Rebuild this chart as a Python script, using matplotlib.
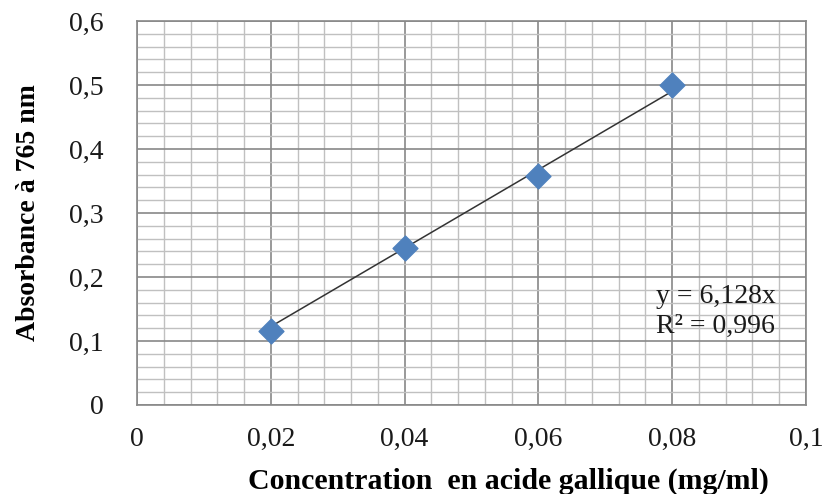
import numpy as np
import matplotlib.pyplot as plt
from matplotlib.ticker import MultipleLocator, FuncFormatter

conc = [0.02, 0.04, 0.06, 0.08]
absorb = [0.115, 0.245, 0.358, 0.500]
pente = 6.128
r2 = 0.996

plt.rcParams['font.family'] = ['Liberation Serif', 'DejaVu Serif']

fig = plt.figure(figsize=(8.27, 4.94), dpi=100)
ax = fig.add_axes([0.1657, 0.1802, 0.8089, 0.7773])

ax.set_xlim(0, 0.1)
ax.set_ylim(0, 0.6)
ax.xaxis.set_major_locator(MultipleLocator(0.02))
ax.xaxis.set_minor_locator(MultipleLocator(0.004))
ax.yaxis.set_major_locator(MultipleLocator(0.1))
ax.yaxis.set_minor_locator(MultipleLocator(0.02))

virgule = FuncFormatter(lambda v, p: ('%g' % round(v, 4)).replace('.', ','))
ax.xaxis.set_major_formatter(virgule)
ax.yaxis.set_major_formatter(virgule)

ax.grid(which='major', color='#888888', lw=1.2)
ax.grid(which='minor', color='#c0c0c0', lw=1.0)
ax.set_axisbelow(True)
for s in ax.spines.values():
    s.set_color('#888888')
    s.set_linewidth(1.2)

ax.tick_params(which='both', length=0, labelsize=20, colors='#1a1a1a')
ax.tick_params(axis='x', pad=16)
ax.tick_params(axis='y', pad=24)

# droite de régression
xl = np.array([conc[0], conc[-1]])
ax.plot(xl, pente * xl, color='#333333', lw=1.1, zorder=2)
ax.scatter(conc, absorb, marker='D', s=160, color='#4f81bd', zorder=3)

ax.text(0.0776, 0.169, 'y = %s' % str(pente).replace('.', ',') + 'x',
        fontsize=20, color='#1a1a1a', va='center')
ax.text(0.0776, 0.122, 'R² = %s' % str(r2).replace('.', ','),
        fontsize=20, color='#1a1a1a', va='center')

ax.set_xlabel('Concentration  en acide gallique (mg/ml)', fontsize=21.5,
              fontweight='bold', labelpad=10)
ax.xaxis.set_label_coords(0.555, -0.2, transform=ax.transAxes)
ax.xaxis.label.set_va('center')
ax.set_ylabel('Absorbance à 765 nm', fontsize=20, fontweight='bold', labelpad=20)

fig.savefig('out.png', dpi=100)
